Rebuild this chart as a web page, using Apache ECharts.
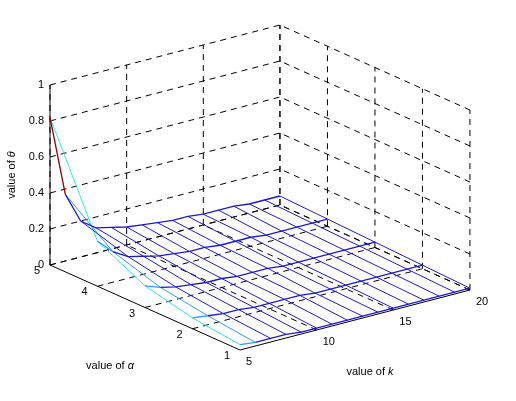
<!DOCTYPE html>
<html>
<head>
<meta charset="utf-8">
<script src="https://cdn.jsdelivr.net/npm/echarts@6/dist/echarts.min.js"></script>
<style>html,body{margin:0;padding:0;background:#fff}#main{width:516px;height:401px}</style>
</head>
<body>
<div id="main"></div>
<script>
// k values along the x axis, alpha rows, theta surface
var k_values = [5, 6, 7, 8, 9, 10, 11, 12, 13, 14, 15, 16, 17, 18, 19, 20];
var alpha_values = [1, 2, 3, 4, 5];
var theta_a1 = [0.03, 0.02, 0.02, 0.02, 0.01, 0.01, 0.01, 0.01, 0.01, 0.01, 0.01, 0.01, 0.01, 0.01, 0.01, 0.01];
var theta_a2 = [0.06, 0.05, 0.04, 0.04, 0.03, 0.03, 0.03, 0.03, 0.02, 0.02, 0.02, 0.02, 0.02, 0.02, 0.02, 0.02];
var theta_a3 = [0.12, 0.09, 0.07, 0.06, 0.05, 0.05, 0.04, 0.04, 0.04, 0.03, 0.03, 0.03, 0.03, 0.03, 0.03, 0.03];
var theta_a4 = [0.25, 0.17, 0.12, 0.10, 0.08, 0.07, 0.06, 0.06, 0.05, 0.05, 0.05, 0.04, 0.04, 0.04, 0.04, 0.04];
var theta_a5 = [0.82, 0.37, 0.20, 0.14, 0.12, 0.10, 0.09, 0.08, 0.07, 0.07, 0.06, 0.06, 0.06, 0.05, 0.05, 0.05];
var theta_rows = [theta_a1, theta_a2, theta_a3, theta_a4, theta_a5];
var k_ticks = [5, 10, 15, 20];
var alpha_ticks = [1, 2, 3, 4, 5];
var theta_ticks = [0, 0.2, 0.4, 0.6, 0.8, 1];

/**
 * 投影 (k, alpha, theta) -> 画面坐标
 */
function proj(k, a, z){
	return [240 + (k - 5) * 15.33 - (a - 1) * 47.5,
	        350 - (k - 5) * 4 - (a - 1) * 21.25 - z * 180];
}

function seg(points, color, width, type){
	return {
		type: 'line', data: points, symbol: 'none', silent: true,
		animation: false,
		lineStyle: {color: color, width: width || 1, type: type || 'solid'}
	};
}

var series = [];
var dash = [6, 5];
// 背景网格 (alpha=5 墙, k=20 墙, 地面)
theta_ticks.forEach(function(z){
	series.push(seg([proj(5, 5, z), proj(20, 5, z), proj(20, 1, z)], '#000', 1, dash));
});
k_ticks.forEach(function(k){
	series.push(seg([proj(k, 5, 0), proj(k, 5, 1)], '#000', 1, dash));
	if(k > 5) series.push(seg([proj(k, 1, 0), proj(k, 5, 0)], '#000', 1, dash));
});
alpha_ticks.forEach(function(a){
	series.push(seg([proj(20, a, 0), proj(20, a, 1)], '#000', 1, dash));
	if(a > 1) series.push(seg([proj(5, a, 0), proj(20, a, 0)], '#000', 1, dash));
});
// 实线坐标轴
series.push(seg([proj(5, 5, 0), proj(5, 5, 1)], '#000', 1));
series.push(seg([proj(5, 1, 0), proj(20, 1, 0)], '#000', 1));
series.push(seg([proj(5, 1, 0), proj(5, 5, 0)], '#000', 1));

// 网格曲面: 沿 k 方向
k_values.forEach(function(k, i){
	var pts = alpha_values.map(function(a, j){ return proj(k, a, theta_rows[j][i]); });
	var c = i === 0 ? '#33e6e6' : (i === 1 ? '#3399ff' : '#1a1acc');
	series.push(seg(pts, c, 1));
});
// 沿 alpha 方向
alpha_values.forEach(function(a, j){
	var pts = k_values.map(function(k, i){ return proj(k, a, theta_rows[j][i]); });
	series.push(seg(pts.slice(1), '#1a1acc', 1.3));
	series.push(seg(pts.slice(0, 2), j === 4 ? '#8b0000' : '#3399ff', 1.3));
});

var graphics = [];
function txt(p, s, opt){
	opt = opt || {};
	graphics.push({type: 'text', x: p[0], y: p[1], silent: true,
		style: {text: s, font: '11px Arial, "Liberation Sans"', fill: '#000',
		        align: opt.align || 'center', verticalAlign: 'middle'}});
}
theta_ticks.forEach(function(z){
	var p = proj(5, 5, z); txt([p[0] - 6, p[1]], String(z), {align: 'right'});
});
alpha_ticks.forEach(function(a){
	var p = proj(5, a, 0); txt([p[0] - 10, p[1] + 6], String(a), {align: 'right'});
});
k_ticks.forEach(function(k){
	var p = proj(k, 1, 0); txt([p[0] + 6, p[1] + 12], String(k), {align: 'left'});
});
graphics.push({type: 'text', x: 12, y: 175, rotation: Math.PI / 2, silent: true,
	style: {text: 'value of {i|θ}', font: '11px Arial', fill: '#000', align: 'center', verticalAlign: 'middle',
	        rich: {i: {font: 'italic 11px Arial'}}}});
graphics.push({type: 'text', x: 110, y: 366, silent: true,
	style: {text: 'value of {i|α}', font: '11px Arial', fill: '#000', align: 'center', verticalAlign: 'middle',
	        rich: {i: {font: 'italic 11px Arial'}}}});
graphics.push({type: 'text', x: 370, y: 372, silent: true,
	style: {text: 'value of {i|k}', font: '11px Arial', fill: '#000', align: 'center', verticalAlign: 'middle',
	        rich: {i: {font: 'italic 11px Arial'}}}});

var myChart = echarts.init(document.getElementById('main'));
myChart.setOption({
	animation: false,
	grid: {left: 0, right: 0, top: 0, bottom: 0},
	xAxis: {type: 'value', min: 0, max: 516, show: false},
	yAxis: {type: 'value', min: 0, max: 401, inverse: true, show: false},
	series: series,
	graphic: graphics
});
</script>
</body>
</html>
